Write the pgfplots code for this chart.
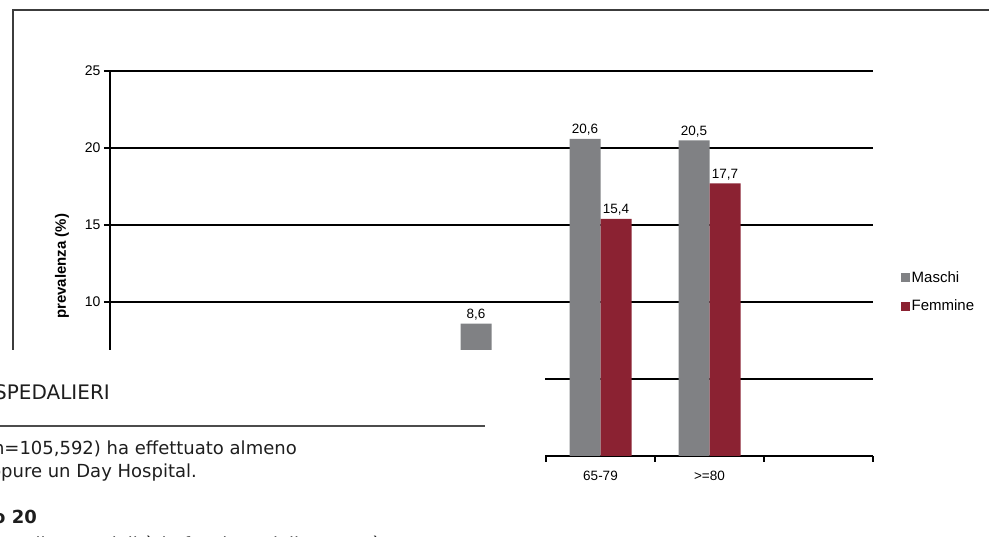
\documentclass[border=0pt]{standalone}
\usepackage{fontspec}
\setmainfont{DejaVu Sans}
\newfontfamily\chartfont{Liberation Sans}
\usepackage{pgfplots}
\pgfplotsset{compat=1.18}
\definecolor{maschi}{RGB}{128,129,132}
\definecolor{femmine}{RGB}{139,34,50}
\definecolor{framegray}{RGB}{60,60,60}
\definecolor{bodytext}{RGB}{30,30,30}

\begin{document}
\begin{tikzpicture}[x=1pt,y=1pt]
\useasboundingbox (0,0) rectangle (989,537);
\begin{scope}
\clip (0,0) rectangle (989,537);
% frame around the chart area
\draw[framegray, line width=2pt] (13,-10) -- (13,527) -- (1000,527);
\begin{axis}[
  at={(110pt,81pt)}, anchor=south west,
  scale only axis, width=763pt, height=385pt,
  xmin=0, xmax=7, ymin=0, ymax=25,
  axis lines=left,
  axis line style={-, line width=1.3pt, black},
  ytick={0,5,10,15,20,25},
  yticklabels={,,10,15,20,25},
  ymajorgrids, grid style={black, line width=1.3pt},
  xtick={4.5,5.5}, xticklabels={65-79,{>=80}},
  minor xtick={0,1,...,7},
  major x tick style={draw=none},
  minor x tick style={black, line width=1.3pt},
  major y tick style={black, line width=1.3pt},
  tick align=outside,
  major tick length=6pt, minor tick length=6pt,
  /pgf/number format/assume math mode=true,
  yticklabel style={font=\chartfont\fontsize{14}{15}\selectfont, text=black},
  xticklabel style={font=\chartfont\fontsize{13.5}{14}\selectfont, text=black, yshift=-6pt},
  ylabel={\bfseries prevalenza (\%)},
  ylabel style={at={(axis description cs:-0.063,0.493)}, anchor=center,
    font=\chartfont\fontsize{15}{16}\selectfont},
  ybar=0pt, bar width=31pt,
  legend style={at={(axis description cs:1.036,0.426)}, anchor=west,
    draw=none, fill=none, font=\chartfont\fontsize{15}{16}\selectfont,
    row sep=12pt, inner sep=0pt},
  legend cell align=left,
  legend image code/.code={\fill[#1] (0pt,-4.5pt) rectangle (9pt,4.5pt);},
  nodes near coords={\pgfmathprintnumber[fixed,fixed zerofill,precision=1,use comma]{\pgfplotspointmeta}},
  nodes near coords style={font=\chartfont\fontsize{13.5}{14}\selectfont, text=black},
]
\addplot[fill=maschi, draw=none] coordinates {(3.5,8.6) (4.5,20.6) (5.5,20.5)};
\addplot[fill=femmine, draw=none] coordinates {(4.5,15.4) (5.5,17.7)};
\legend{Maschi,Femmine}
\end{axis}
% page of the report laid over the lower left of the chart
\fill[white] (-1,-1) rectangle (545,187);
\begin{scope}[every node/.style={inner sep=0pt, text=bodytext}]
\node[anchor=base east, font=\fontsize{20}{24}\selectfont] at (110,137) {RICOVERI OSPEDALIERI};
\draw[gray!60!black, line width=1.2pt] (-1,111) -- (485,111);
\node[anchor=base east, font=\fontsize{18}{20}\selectfont] at (297,82) {(n=105,592) ha effettuato almeno};
\node[anchor=base east, font=\fontsize{18}{20}\selectfont] at (197,59) {oppure un Day Hospital.};
\node[anchor=base east, font=\bfseries\fontsize{18}{20}\selectfont] at (37,13) {Grafico 20};
\node[anchor=base west, font=\fontsize{18}{20}\selectfont] at (13,-14) {nella ospedalità in funzione della sua età};
\end{scope}
\end{scope}
\end{tikzpicture}
\end{document}
